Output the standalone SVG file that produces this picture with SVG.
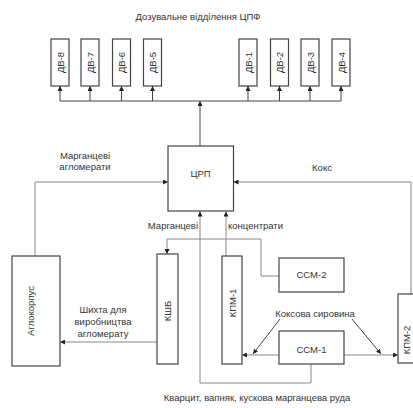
<svg xmlns="http://www.w3.org/2000/svg" width="413" height="408" viewBox="0 0 413 408">
  <style>
    text { font-family: "Liberation Sans", Arial, sans-serif; font-size: 9.5px; fill: #333; }
    .box { fill: #fff; stroke: #444; stroke-width: 1.2; }
    .line { fill: none; stroke: #888; stroke-width: 1; }
    .dark { stroke: #444; }
    .c { text-anchor: middle; dominant-baseline: central; }
  </style>
  <defs>
    <marker id="arr" viewBox="0 0 10 10" refX="10" refY="5" markerWidth="5" markerHeight="5" orient="auto" markerUnits="userSpaceOnUse">
      <path d="M0,0 L10,5 L0,10 z" fill="#222"/>
    </marker>
  </defs>
  <rect width="413" height="408" fill="#fff"/>

  <text class="c" x="198" y="16">Дозувальне відділення ЦПФ</text>

  <!-- connectors -->
  <g id="connectors">
    <path class="line dark" d="M200,146 V101" marker-end="url(#arr)"/>
    <path class="line dark" d="M60,101 H341"/>
    <path class="line dark" d="M60,101 V86" marker-end="url(#arr)"/>
    <path class="line dark" d="M90,101 V86" marker-end="url(#arr)"/>
    <path class="line dark" d="M121.5,101 V86" marker-end="url(#arr)"/>
    <path class="line dark" d="M152.5,101 V86" marker-end="url(#arr)"/>
    <path class="line dark" d="M248,101 V86" marker-end="url(#arr)"/>
    <path class="line dark" d="M279.5,101 V86" marker-end="url(#arr)"/>
    <path class="line dark" d="M310,101 V86" marker-end="url(#arr)"/>
    <path class="line dark" d="M341,101 V86" marker-end="url(#arr)"/>
    <path class="line" d="M35,256 V182 H168" marker-end="url(#arr)"/>
    <path class="line" d="M411,294 V182 H233.5" marker-end="url(#arr)"/>
    <path class="line" d="M279,276 H261 V239 H167 V254" marker-end="url(#arr)"/>
    <path class="line" d="M226,256 V211.5" marker-end="url(#arr)"/>
    <path class="line" d="M311,364 V383 H200 V211.5" marker-end="url(#arr)"/>
    <path class="line" d="M157,342 H60" marker-end="url(#arr)"/>
    <path class="line" d="M279,355 H242" marker-end="url(#arr)"/>
    <path class="line" d="M344,355 H398" marker-end="url(#arr)"/>
    <path class="line dark" d="M280,319 L253,354" marker-end="url(#arr)"/>
    <path class="line dark" d="M352,319 L381,354" marker-end="url(#arr)"/>
  </g>

  <!-- dosing bins -->
  <g id="dv8"><rect class="box" x="51" y="39" width="18" height="47"/><text class="c" transform="translate(60,62.5) rotate(-90)">ДВ-8</text></g>
  <g id="dv7"><rect class="box" x="81" y="39" width="18" height="47"/><text class="c" transform="translate(90,62.5) rotate(-90)">ДВ-7</text></g>
  <g id="dv6"><rect class="box" x="112.5" y="39" width="18" height="47"/><text class="c" transform="translate(121.5,62.5) rotate(-90)">ДВ-6</text></g>
  <g id="dv5"><rect class="box" x="143.5" y="39" width="18" height="47"/><text class="c" transform="translate(152.5,62.5) rotate(-90)">ДВ-5</text></g>
  <g id="dv1"><rect class="box" x="239" y="39" width="18" height="47"/><text class="c" transform="translate(248,62.5) rotate(-90)">ДВ-1</text></g>
  <g id="dv2"><rect class="box" x="270.5" y="39" width="18" height="47"/><text class="c" transform="translate(279.5,62.5) rotate(-90)">ДВ-2</text></g>
  <g id="dv3"><rect class="box" x="301" y="39" width="18" height="47"/><text class="c" transform="translate(310,62.5) rotate(-90)">ДВ-3</text></g>
  <g id="dv4"><rect class="box" x="332" y="39" width="18" height="47"/><text class="c" transform="translate(341,62.5) rotate(-90)">ДВ-4</text></g>

  <!-- main units -->
  <g id="crp"><rect class="box" x="168" y="146" width="65.5" height="65"/><text class="c" x="200.5" y="173">ЦРП</text></g>
  <g id="aglo"><rect class="box" x="12" y="256" width="48" height="110"/><text class="c" transform="translate(30,311) rotate(-90)">Аглокорпус</text></g>
  <g id="kshb"><rect class="box" x="157" y="254" width="21" height="110"/><text class="c" transform="translate(167.5,311) rotate(-90)">КШБ</text></g>
  <g id="kpm1"><rect class="box" x="222" y="256" width="20" height="108"/><text class="c" transform="translate(232,303) rotate(-90)">КПМ-1</text></g>
  <g id="ssm2"><rect class="box" x="279" y="258" width="65" height="34"/><text class="c" x="311.5" y="274.5">ССМ-2</text></g>
  <g id="ssm1"><rect class="box" x="279" y="331" width="65" height="33"/><text class="c" x="311.5" y="349">ССМ-1</text></g>
  <g id="kpm2"><rect class="box" x="398" y="294" width="24" height="69"/><text class="c" transform="translate(406.5,340) rotate(-90)">КПМ-2</text></g>

  <!-- flow labels -->
  <text class="c" x="85" y="155">Марганцеві</text>
  <text class="c" x="85" y="166">агломерати</text>
  <text class="c" x="322" y="167">Кокс</text>
  <text x="198" y="229" text-anchor="end">Марганцеві</text>
  <text x="228" y="229">концентрати</text>
  <text class="c" x="103" y="309">Шихта для</text>
  <text class="c" x="103" y="321">виробництва</text>
  <text class="c" x="103" y="333">агломерату</text>
  <text class="c" x="315" y="313">Коксова сировина</text>
  <text class="c" x="257" y="397">Кварцит, вапняк, кускова марганцева руда</text>
</svg>
